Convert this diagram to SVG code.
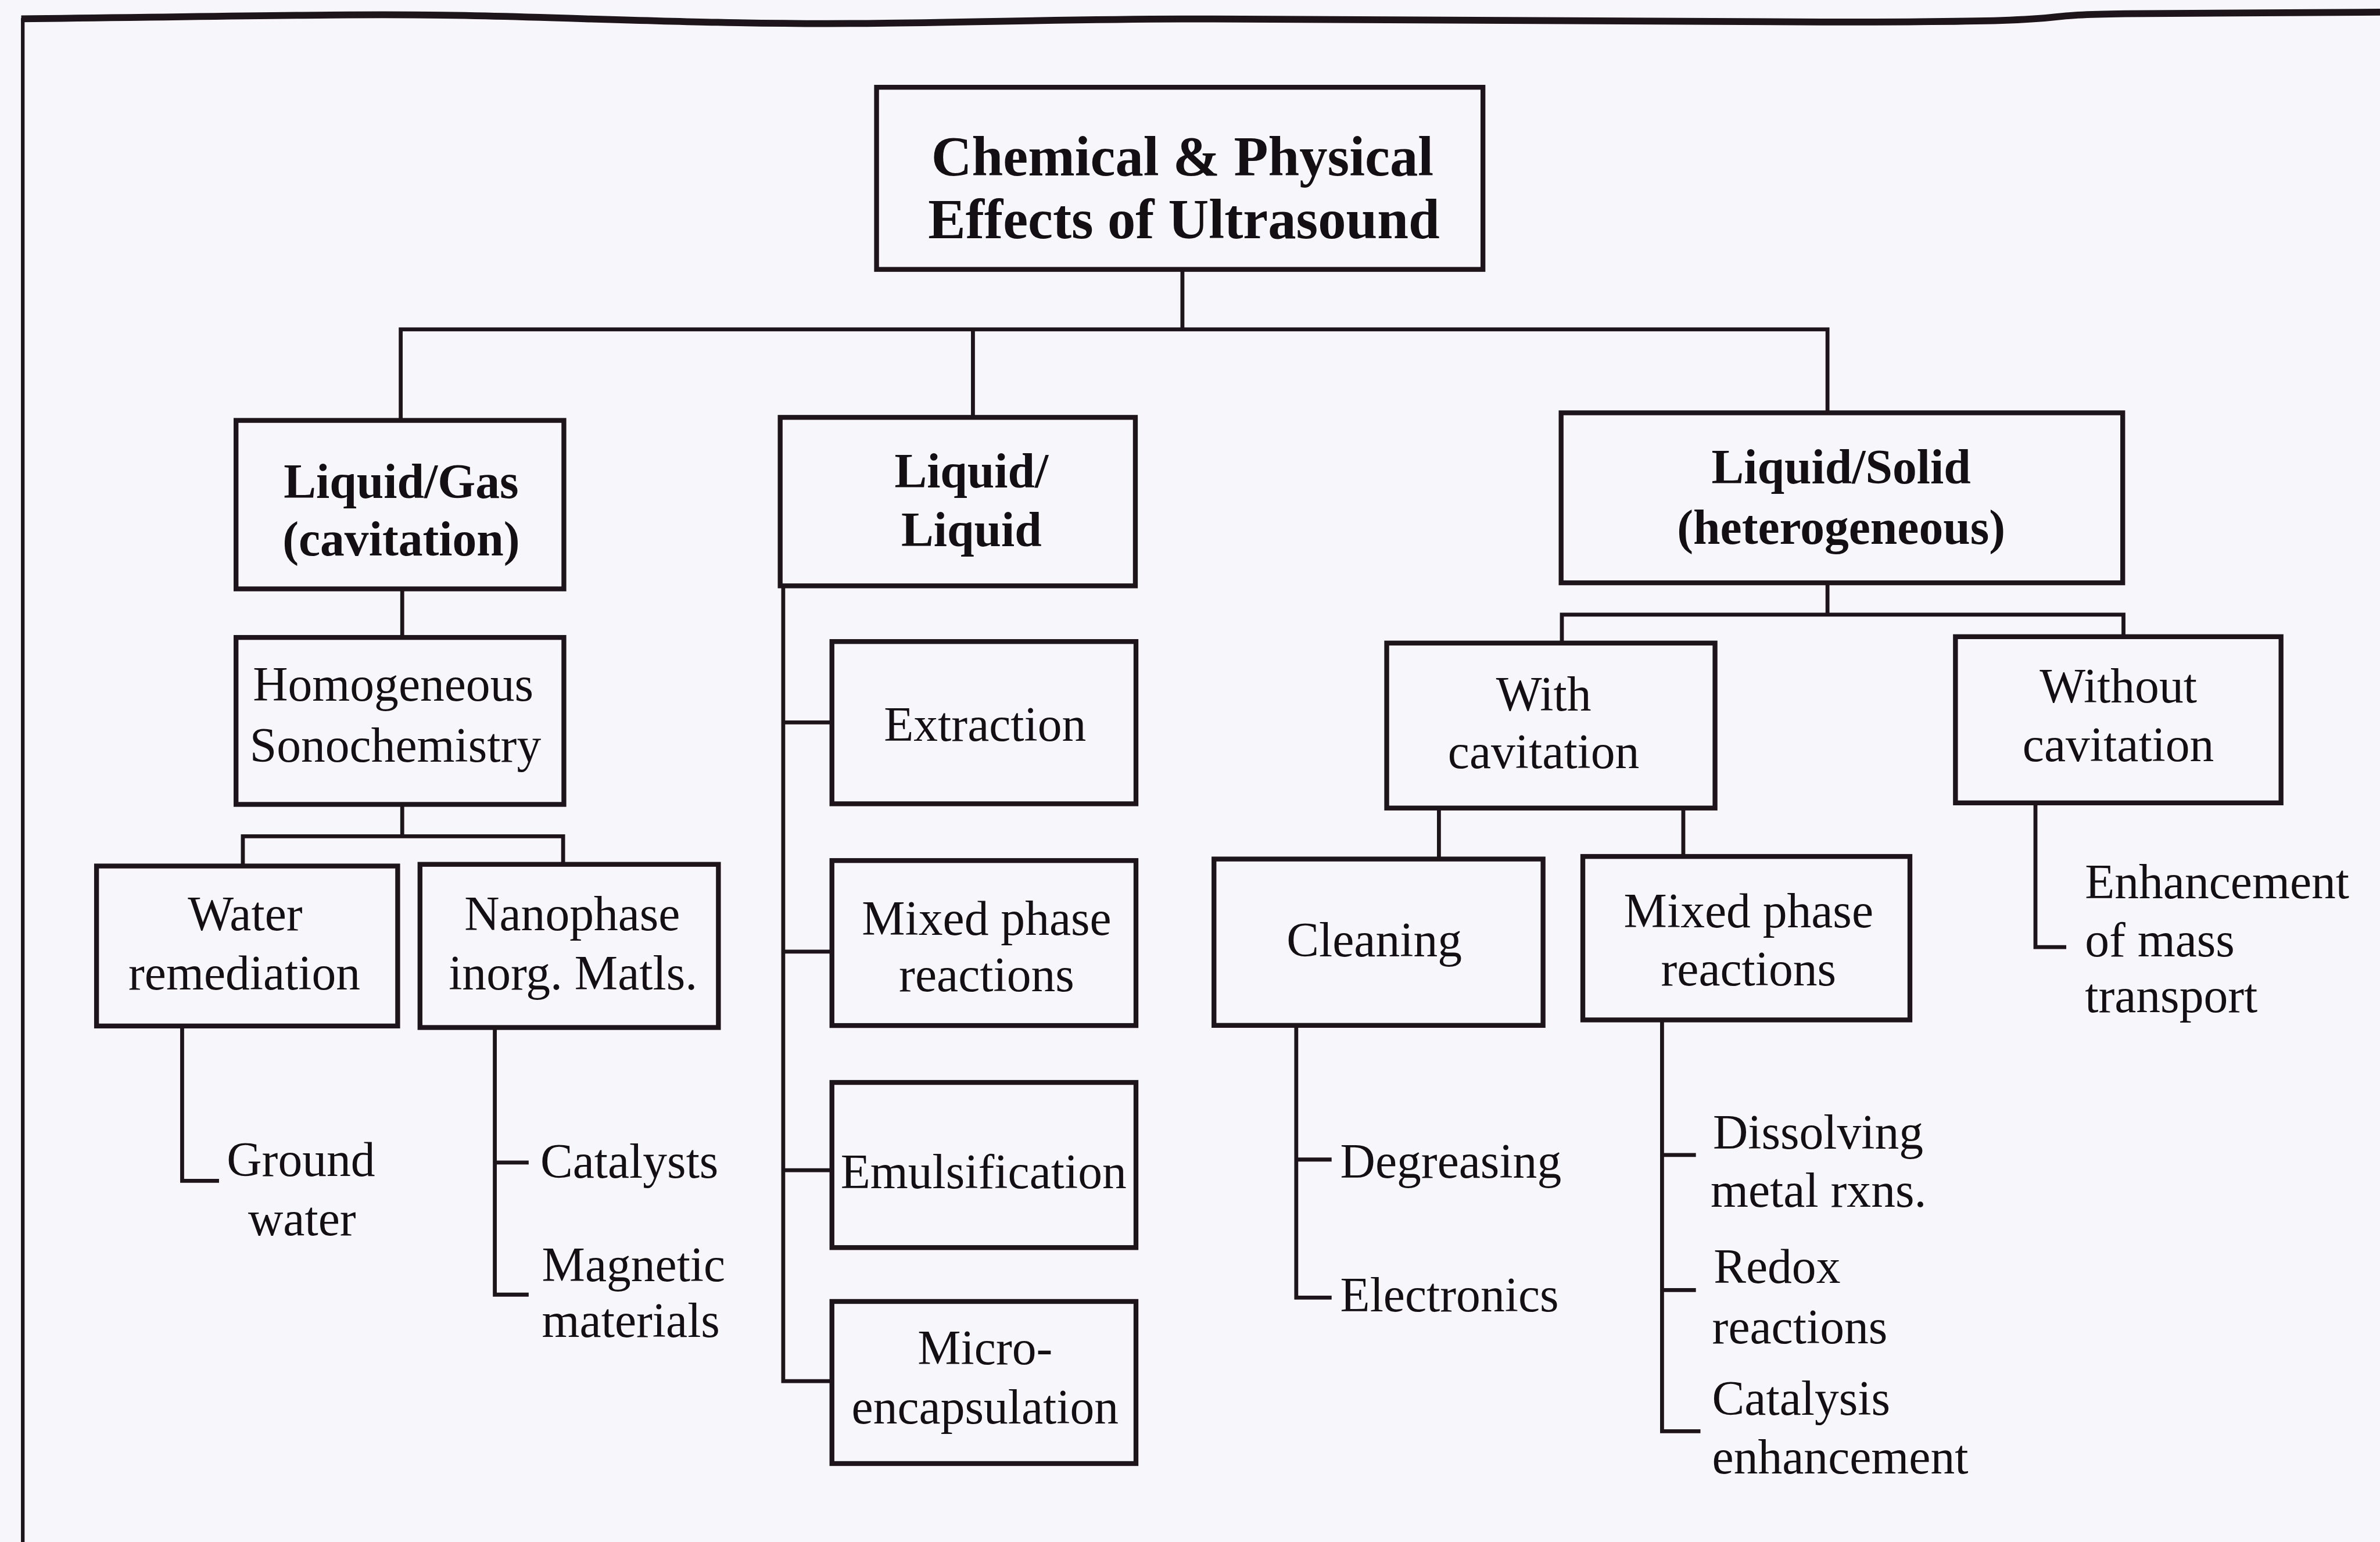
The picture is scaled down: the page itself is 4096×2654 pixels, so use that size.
<svg xmlns="http://www.w3.org/2000/svg" width="4096" height="2654" viewBox="0 0 4096 2654">
  <style>
    .bg { fill: #f7f7fb; }
    .box { fill: #f7f7fb; stroke: #1d1519; stroke-width: 3.2; }
    .ln { fill: none; stroke: #1d1519; stroke-width: 2.6; stroke-linecap: square; }
    .frame { fill: none; stroke: #1d1519; stroke-linecap: butt; }
    text { font-family: "Liberation Serif", "Times New Roman", serif; fill: #140f12; }
    .title { font-size: 37px; font-weight: bold; text-anchor: middle; }
    .b { font-size: 32px; font-weight: bold; text-anchor: middle; }
    .c { font-size: 32px; text-anchor: middle; }
    .l { font-size: 32px; text-anchor: start; }
  </style>
  <rect class="bg" x="0" y="0" width="4096" height="2654"/>
  <!-- all geometry laid out on a 1568-unit grid and scaled to the page -->
  <g transform="scale(2.61224)">
    <!-- page frame: wavy top rule and left rule -->
    <g id="frame">
      <path class="frame" stroke-width="4.5" d="M14 12.4 C 150 11, 240 8.5, 320 10.5 S 480 16, 560 15.5 S 720 12, 800 12.5 S 1000 14.5, 1200 14.5 S 1320 10, 1400 9 L1568 8"/>
      <path class="frame" stroke-width="2.4" d="M15 12 V1016"/>
    </g>

    <!-- connectors -->
    <g id="connectors">
      <path class="ln" d="M779 178 V217 M264 217 H1204 M264 217 V277 M641 217 V275 M1204 217 V272"/>
      <path class="ln" d="M265 388 V420 M265 530 V551 M160 551 H371 M160 551 V570 M371 551 V570"/>
      <path class="ln" d="M120 676 V778 H143"/>
      <path class="ln" d="M326 677 V853 H347 M326 766 H347"/>
      <path class="ln" d="M516 386 V910 H548 M516 476 H548 M516 627 H548 M516 771 H548"/>
      <path class="ln" d="M1204 384 V405 M1029 405 H1399 M1029 405 V424 M1399 405 V419"/>
      <path class="ln" d="M948 532 V566 M1109 532 V564"/>
      <path class="ln" d="M854 676 V855 H876 M854 764 H876"/>
      <path class="ln" d="M1095 672 V943 H1119 M1095 761 H1116 M1095 850 H1116"/>
      <path class="ln" d="M1341 529 V624 H1360"/>
    </g>

    <!-- root -->
    <g id="n-root">
      <rect class="box" x="577.5" y="57.5" width="399.5" height="120"/>
      <text class="title" x="779" y="115.7">Chemical &amp; Physical</text>
      <text class="title" x="780" y="157">Effects of Ultrasound</text>
    </g>

    <!-- second level -->
    <g id="n-liquid-gas">
      <rect class="box" x="155.5" y="277" width="216" height="111"/>
      <text class="b" x="264.3" y="328">Liquid/Gas</text>
      <text class="b" x="264.3" y="366">(cavitation)</text>
    </g>
    <g id="n-liquid-liquid">
      <rect class="box" x="514" y="275" width="234" height="111"/>
      <text class="b" x="640" y="321">Liquid/</text>
      <text class="b" x="640" y="360">Liquid</text>
    </g>
    <g id="n-liquid-solid">
      <rect class="box" x="1028.5" y="272" width="370" height="112"/>
      <text class="b" x="1213" y="318.6">Liquid/Solid</text>
      <text class="b" x="1213" y="358.3">(heterogeneous)</text>
    </g>

    <!-- Liquid/Gas branch -->
    <g id="n-homogeneous">
      <rect class="box" x="155.5" y="420" width="216" height="110"/>
      <text class="c" x="259" y="461.6">Homogeneous</text>
      <text class="c" x="260.5" y="502">Sonochemistry</text>
    </g>
    <g id="n-water">
      <rect class="box" x="63.6" y="570.6" width="198.4" height="105.4"/>
      <text class="c" x="161.5" y="613">Water</text>
      <text class="c" x="161" y="652">remediation</text>
    </g>
    <g id="n-nanophase">
      <rect class="box" x="276.7" y="569.5" width="196.6" height="107.5"/>
      <text class="c" x="377" y="613">Nanophase</text>
      <text class="c" x="377.5" y="652">inorg. Matls.</text>
    </g>
    <g id="n-groundwater">
      <text class="l" x="149.4" y="775">Ground</text>
      <text class="c" x="199" y="814">water</text>
    </g>
    <g id="n-catalysts">
      <text class="l" x="356" y="776">Catalysts</text>
    </g>
    <g id="n-magnetic">
      <text class="l" x="357" y="844">Magnetic</text>
      <text class="l" x="357" y="881">materials</text>
    </g>

    <!-- Liquid/Liquid branch -->
    <g id="n-extraction">
      <rect class="box" x="548.1" y="422.7" width="200.3" height="106.9"/>
      <text class="c" x="649" y="488">Extraction</text>
    </g>
    <g id="n-mixed-ll">
      <rect class="box" x="548.1" y="567" width="200.3" height="108.7"/>
      <text class="c" x="650" y="616">Mixed phase</text>
      <text class="c" x="650" y="653">reactions</text>
    </g>
    <g id="n-emulsification">
      <rect class="box" x="548.1" y="713.2" width="200.3" height="108.8"/>
      <text class="c" x="648" y="783">Emulsification</text>
    </g>
    <g id="n-microencapsulation">
      <rect class="box" x="548.1" y="857.5" width="200.3" height="106.8"/>
      <text class="c" x="649" y="899">Micro-</text>
      <text class="c" x="649" y="938">encapsulation</text>
    </g>

    <!-- Liquid/Solid branch -->
    <g id="n-with">
      <rect class="box" x="913.6" y="423.7" width="216.3" height="108.7"/>
      <text class="c" x="1017" y="468">With</text>
      <text class="c" x="1017" y="506">cavitation</text>
    </g>
    <g id="n-without">
      <rect class="box" x="1288.3" y="419.5" width="214.5" height="109.5"/>
      <text class="c" x="1395.6" y="463">Without</text>
      <text class="c" x="1395.6" y="501.4">cavitation</text>
    </g>
    <g id="n-cleaning">
      <rect class="box" x="799.8" y="566" width="216.8" height="109.6"/>
      <text class="c" x="905.4" y="630">Cleaning</text>
    </g>
    <g id="n-mixed-ls">
      <rect class="box" x="1042.8" y="564.3" width="215.5" height="107.7"/>
      <text class="c" x="1152" y="611">Mixed phase</text>
      <text class="c" x="1152" y="649.3">reactions</text>
    </g>
    <g id="n-degreasing">
      <text class="l" x="883" y="776">Degreasing</text>
    </g>
    <g id="n-electronics">
      <text class="l" x="883" y="864">Electronics</text>
    </g>
    <g id="n-dissolving">
      <text class="l" x="1128.5" y="757">Dissolving</text>
      <text class="l" x="1127" y="795">metal rxns.</text>
    </g>
    <g id="n-redox">
      <text class="l" x="1129" y="845.3">Redox</text>
      <text class="l" x="1128" y="885">reactions</text>
    </g>
    <g id="n-catalysis">
      <text class="l" x="1128" y="932">Catalysis</text>
      <text class="l" x="1128" y="971">enhancement</text>
    </g>
    <g id="n-mass-transport">
      <text class="l" x="1373.6" y="592">Enhancement</text>
      <text class="l" x="1373.6" y="630">of mass</text>
      <text class="l" x="1373.6" y="667">transport</text>
    </g>
  </g>
</svg>
